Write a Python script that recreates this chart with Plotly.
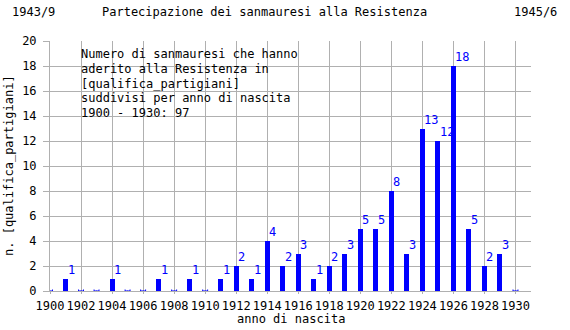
import plotly.graph_objects as go

years = list(range(1900, 1931))
counts = [0, 1, 0, 0, 1, 0, 0, 1, 0, 1,
          0, 1, 2, 1, 4, 2, 3, 1, 2, 3,
          5, 5, 8, 3, 13, 12, 18, 5, 2, 3, 0]

title_left = "1943/9"
title_main = "Partecipazione dei sanmauresi alla Resistenza"
title_right = "1945/6"
note_lines = [
    "Numero di sanmauresi che hanno",
    "aderito alla Resistenza in",
    "[qualifica_partigiani]",
    "suddivisi per anno di nascita",
    "1900 - 1930: " + str(sum(counts)),
]
x_title = "anno di nascita"
y_title = "n. [qualifica_partigiani]"
x_ticks = list(range(1900, 1931, 2))
y_ticks = list(range(0, 21, 2))

FONT = "DejaVu Sans Mono"
BLUE = "#0000ff"
GRID = "#b0b0b0"

fig = go.Figure()
fig.add_trace(go.Bar(x=years, y=counts, width=0.32, marker=dict(color=BLUE, line=dict(width=0)),
                     hoverinfo="x+y"))

zero_years = [y for y, c in zip(years, counts) if c == 0]
fig.add_trace(go.Scatter(x=zero_years, y=[0] * len(zero_years), mode="markers",
                         marker=dict(size=1, color=BLUE),
                         error_x=dict(type="constant", value=0.16, width=1.5, thickness=1, color=BLUE),
                         hoverinfo="skip"))

ann = []
for y, c in zip(years, counts):
    if c > 0:
        ann.append(dict(x=y, y=c, xref="x", yref="y", text=str(c), showarrow=False,
                        xanchor="left", yanchor="bottom", xshift=0, yshift=0,
                        font=dict(family=FONT, size=12, color=BLUE)))

# plot area: x 50..531, y 41..291
def px_x(p):
    return (p - 50) / 481.0

def px_y(p):
    return (291 - p) / 250.0

ann.append(dict(x=px_x(10), y=px_y(12), xref="paper", yref="paper", text=title_left, showarrow=False,
                xanchor="left", yanchor="middle", font=dict(family=FONT, size=12, color="black")))
ann.append(dict(x=px_x(100), y=px_y(12), xref="paper", yref="paper", text=title_main, showarrow=False,
                xanchor="left", yanchor="middle", font=dict(family=FONT, size=12, color="black")))
ann.append(dict(x=px_x(559), y=px_y(12), xref="paper", yref="paper", text=title_right, showarrow=False,
                xanchor="right", yanchor="middle", font=dict(family=FONT, size=12, color="black")))
for i, line in enumerate(note_lines):
    ann.append(dict(x=px_x(79), y=px_y(54 + i * 14.8), xref="paper", yref="paper", text=line,
                    showarrow=False, xanchor="left", yanchor="middle",
                    font=dict(family=FONT, size=12, color="black")))
ann.append(dict(x=0.5, y=px_y(319), xref="paper", yref="paper", text=x_title, showarrow=False,
                xanchor="center", yanchor="middle", font=dict(family=FONT, size=12, color="black")))
ann.append(dict(x=px_x(9), y=0.5, xref="paper", yref="paper", text=y_title, showarrow=False,
                textangle=-90, xanchor="center", yanchor="middle",
                font=dict(family=FONT, size=12, color="black")))

fig.update_layout(
    width=570, height=330,
    margin=dict(l=50, r=39, t=41, b=39),
    paper_bgcolor="white", plot_bgcolor="white",
    showlegend=False,
    bargap=0,
    font=dict(family=FONT, size=12, color="black"),
    annotations=ann,
    shapes=[dict(type="rect", xref="paper", yref="paper", x0=px_x(72), x1=px_x(327),
                 y0=px_y(142), y1=px_y(42), fillcolor="white", line=dict(width=0), layer="below")],
    xaxis=dict(range=[1900, 1931], tickmode="array", tickvals=x_ticks,
               ticktext=[str(t) for t in x_ticks],
               showgrid=True, gridcolor=GRID, gridwidth=1,
               showline=True, linecolor=GRID, linewidth=1,
               ticks="outside", ticklen=2, tickcolor=GRID, zeroline=False,
               ticklabelstandoff=2,
               tickfont=dict(family=FONT, size=12, color="black")),
    yaxis=dict(range=[0, 20], tickmode="array", tickvals=y_ticks,
               showgrid=True, gridcolor=GRID, gridwidth=1,
               showline=True, linecolor=GRID, linewidth=1, mirror=False,
               ticks="outside", ticklen=6, tickcolor=GRID, zeroline=False,
               ticklabelstandoff=4,
               tickfont=dict(family=FONT, size=12, color="black")),
)

fig.write_html("out.html")
